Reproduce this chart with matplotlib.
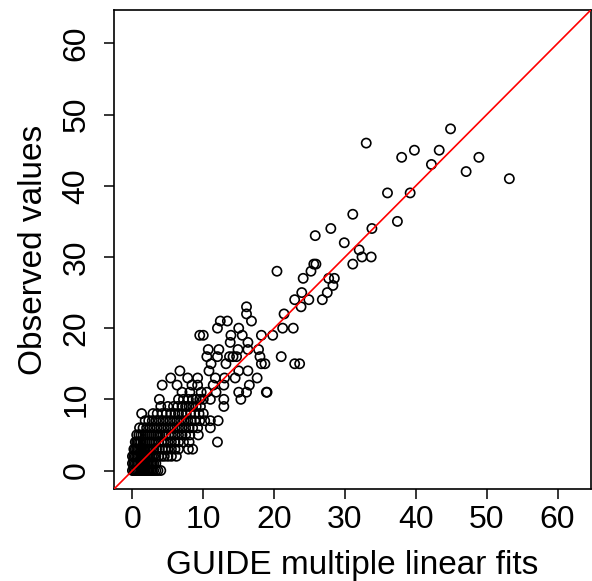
import matplotlib
matplotlib.use("Agg")
import matplotlib.pyplot as plt

# upper / scattered points
upper_x = [33.0, 44.9, 38.0, 39.8, 43.3, 42.2, 48.9, 47.1, 53.2, 36.0, 39.2,
           31.1, 37.4, 28.0, 33.8, 25.8, 29.9, 32.0, 31.1, 32.4, 33.7, 25.6,
           25.9, 20.4, 25.2, 24.1, 27.7, 28.5, 23.9, 27.5, 28.3, 22.9, 24.9,
           26.8, 23.8, 21.4, 21.2, 22.7, 19.8, 21.0, 22.9, 23.6, 18.9, 19.0]
upper_y = [46, 48, 44, 45, 45, 43, 44, 42, 41, 39, 39,
           36, 35, 34, 34, 33, 32, 31, 29, 30, 30, 29,
           29, 28, 28, 27, 27, 27, 25, 25, 26, 24, 24,
           24, 23, 22, 20, 20, 19, 16, 15, 15, 11, 11]

mid_x = [18.7, 18.2, 17.8, 18.0, 18.2, 17.6, 16.1, 16.1, 16.8, 16.3, 16.3,
         16.3, 16.5, 16.1, 15.0, 15.5, 13.9, 13.8, 14.9, 13.4, 12.4, 12.0,
         12.2, 10.7, 10.5, 12.0, 13.7, 14.2, 14.7, 11.1, 13.2, 10.8, 15.0,
         11.7, 14.5, 9.5, 10.0, 12.9, 15.0, 15.3, 12.9, 12.9, 6.7, 5.4, 7.8,
         9.2, 4.2, 6.3, 8.4, 9.2, 9.7, 10.5, 11.8, 7.0, 8.1, 3.8, 7.2, 7.9,
         12.1, 11.0, 9.3, 12.0, 7.9, 8.5, 1.3, 11.4, 13.0]
mid_y = [15, 19, 17, 16, 15, 13, 23, 22, 21, 18, 17,
         14, 12, 11, 20, 19, 19, 18, 17, 21, 21, 20,
         17, 17, 16, 16, 16, 16, 16, 15, 15, 14, 14,
         13, 13, 19, 19, 12, 11, 10, 10, 9, 14, 13, 13,
         13, 12, 12, 12, 12, 11, 11, 11, 11, 11, 10, 10, 10,
         7, 6, 5, 4, 3, 3, 8, 12, 13]

# dense cluster near the origin, one list of x per observed value
row_0 = [0.0, 0.2, 0.4, 0.6, 0.8, 1.0, 1.2, 1.4, 1.6, 1.8, 2.0, 2.2, 2.4,
         2.6, 2.8, 3.0, 3.3, 3.6, 4.0]
row_1 = [0.0, 0.2, 0.4, 0.6, 0.8, 1.0, 1.2, 1.4, 1.6, 1.8, 2.0, 2.2, 2.4,
         2.6, 2.8, 3.0, 3.3]
row_2 = [0.0, 0.2, 0.4, 0.6, 0.8, 1.0, 1.2, 1.4, 1.6, 1.8, 2.0, 2.2, 2.4,
         2.7, 3.0, 3.3, 3.7, 4.1, 4.5, 5.0, 5.5, 6.2]
row_3 = [0.2, 0.4, 0.6, 0.8, 1.0, 1.2, 1.4, 1.6, 1.8, 2.0, 2.2, 2.4, 2.7,
         3.0, 3.4, 3.8, 4.2, 4.6, 5.0, 5.5, 6.0, 6.5]
row_4 = [0.4, 0.6, 0.8, 1.0, 1.2, 1.5, 1.8, 2.1, 2.4, 2.7, 3.0, 3.3, 3.7,
         4.1, 4.5, 5.0, 5.5, 6.0, 6.5, 7.2, 8.0]
row_5 = [0.6, 0.9, 1.2, 1.5, 1.8, 2.1, 2.4, 2.7, 3.0, 3.3, 3.6, 3.9, 4.3,
         4.7, 5.1, 5.5, 6.0, 6.5, 7.0, 7.5, 8.1]
row_6 = [1.0, 1.5, 2.0, 2.5, 3.0, 3.5, 4.0, 4.5, 5.0, 5.5, 6.0, 6.5, 7.0,
         7.5, 8.0, 8.5, 9.2]
row_7 = [1.8, 2.3, 2.8, 3.3, 3.8, 4.3, 4.8, 5.3, 5.8, 6.3, 6.8, 7.3, 7.8,
         8.3, 8.8, 9.5, 10.2, 11.0]
row_8 = [2.9, 3.5, 4.2, 4.8, 5.4, 6.0, 6.5, 7.0, 7.6, 8.2, 8.8, 9.4, 10.0]
row_9 = [4.0, 5.0, 5.8, 6.4, 7.0, 7.5, 8.0, 8.5, 9.0, 9.6]
row_10 = [6.5, 8.5, 9.0, 9.5, 10.0, 11.0]
dense_rows = [row_0, row_1, row_2, row_3, row_4, row_5, row_6, row_7,
              row_8, row_9, row_10]

x_vals = upper_x + mid_x
y_vals = upper_y + mid_y
for obs, row in enumerate(dense_rows):
    x_vals += row
    y_vals += [obs] * len(row)

ticks = [0, 10, 20, 30, 40, 50, 60]
lim = (-2.6, 64.7)

plt.rcParams['font.family'] = ['Liberation Sans', 'DejaVu Sans']

fig = plt.figure(figsize=(5.92, 5.81), dpi=100)
ax = fig.add_axes([0.1926, 0.1583, 0.8054, 0.8245])

ax.scatter(x_vals, y_vals, s=44, facecolors='none', edgecolors='black',
           linewidths=1.2, zorder=2)
ax.plot(lim, lim, color='red', lw=1.2, zorder=3)

ax.set_xlim(lim)
ax.set_ylim(lim)
ax.set_xticks(ticks)
ax.set_yticks(ticks)
ax.tick_params(labelsize=23, length=7.2, width=1.1, direction='out')
ax.tick_params(axis='x', pad=4)
ax.tick_params(axis='y', pad=9)
for lab in ax.get_yticklabels():
    lab.set_rotation(90)
    lab.set_va('center')
for sp in ax.spines.values():
    sp.set_linewidth(1.2)

ax.set_xlabel('GUIDE multiple linear fits', fontsize=24, labelpad=11)
ax.set_ylabel('Observed values', fontsize=24, labelpad=9)

fig.savefig('out.png', dpi=100)
